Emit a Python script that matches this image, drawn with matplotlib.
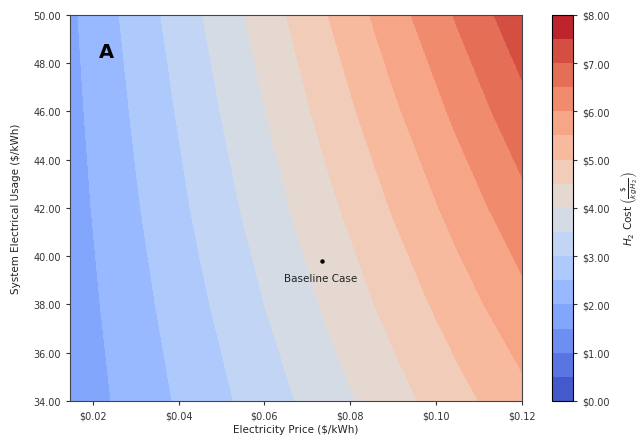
import matplotlib
matplotlib.use("Agg")
import matplotlib.pyplot as plt
import matplotlib.ticker as mticker
import numpy as np

# electricity price ($/kWh) and system usage grid, cost values
prices = [0.015, 0.03, 0.045, 0.06, 0.075, 0.09, 0.105, 0.12]
usage = [34, 38, 42, 46, 50]
h2_cost = [
    [1.68, 2.20, 2.73, 3.25, 3.78, 4.30, 4.83, 5.35],
    [1.74, 2.32, 2.91, 3.50, 4.09, 4.67, 5.26, 5.85],
    [1.80, 2.45, 3.10, 3.75, 4.39, 5.04, 5.69, 6.34],
    [1.86, 2.57, 3.28, 3.99, 4.70, 5.41, 6.12, 6.84],
    [1.92, 2.70, 3.47, 4.24, 5.01, 5.79, 6.56, 7.33],
]
cost_levels = [0.0, 0.5, 1.0, 1.5, 2.0, 2.5, 3.0, 3.5, 4.0, 4.5, 5.0, 5.5, 6.0, 6.5, 7.0, 7.5, 8.0]
cbar_ticks = [0, 1, 2, 3, 4, 5, 6, 7, 8]
x_ticks = [0.02, 0.04, 0.06, 0.08, 0.10, 0.12]
y_ticks = [34, 36, 38, 40, 42, 44, 46, 48, 50]
baseline_price = 0.0735
baseline_usage = 39.8

fig = plt.figure(figsize=(6.39, 4.39), dpi=100)
ax = fig.add_axes([0.1095, 0.0843, 0.7075, 0.8797])
cax = fig.add_axes([0.864, 0.0843, 0.033, 0.8797])

X, Y = np.meshgrid(prices, usage)
cs = ax.contourf(X, Y, np.array(h2_cost), levels=cost_levels, cmap="coolwarm")

ax.plot(baseline_price, baseline_usage, "o", color="black", markersize=2.2)
ax.annotate("Baseline Case", (baseline_price, baseline_usage), xytext=(-1, -12),
            textcoords="offset points", ha="center", va="center", fontsize=7.5, color="#222222")
ax.text(0.08, 0.905, "A", transform=ax.transAxes, fontsize=14, fontweight="bold",
        ha="center", va="center")

ax.set_xlim(0.0147, 0.12)
ax.set_ylim(34, 50)
ax.set_xticks(x_ticks)
ax.set_yticks(y_ticks)
ax.xaxis.set_major_formatter(mticker.FuncFormatter(lambda v, _: "${:.2f}".format(v)))
ax.yaxis.set_major_formatter(mticker.FormatStrFormatter("%.2f"))
ax.tick_params(labelsize=7, colors="#333333", length=3)
for s in ax.spines.values():
    s.set_color("#444444")
ax.set_xlabel("Electricity Price ($/kWh)", fontsize=7.5, color="#222222", labelpad=3)
ax.set_ylabel("System Electrical Usage ($/kWh)", fontsize=7.5, color="#222222", labelpad=9)

cb = fig.colorbar(cs, cax=cax, ticks=cbar_ticks)
cb.ax.yaxis.set_major_formatter(mticker.FuncFormatter(lambda v, _: "${:.2f}".format(v)))
cb.ax.tick_params(labelsize=7, colors="#333333", length=3)
cb.set_label(r"$H_2$ Cost $\left(\frac{\$}{kg\,H_2}\right)$", fontsize=7.5, color="#222222", labelpad=6)

fig.savefig("out.png", dpi=100)
